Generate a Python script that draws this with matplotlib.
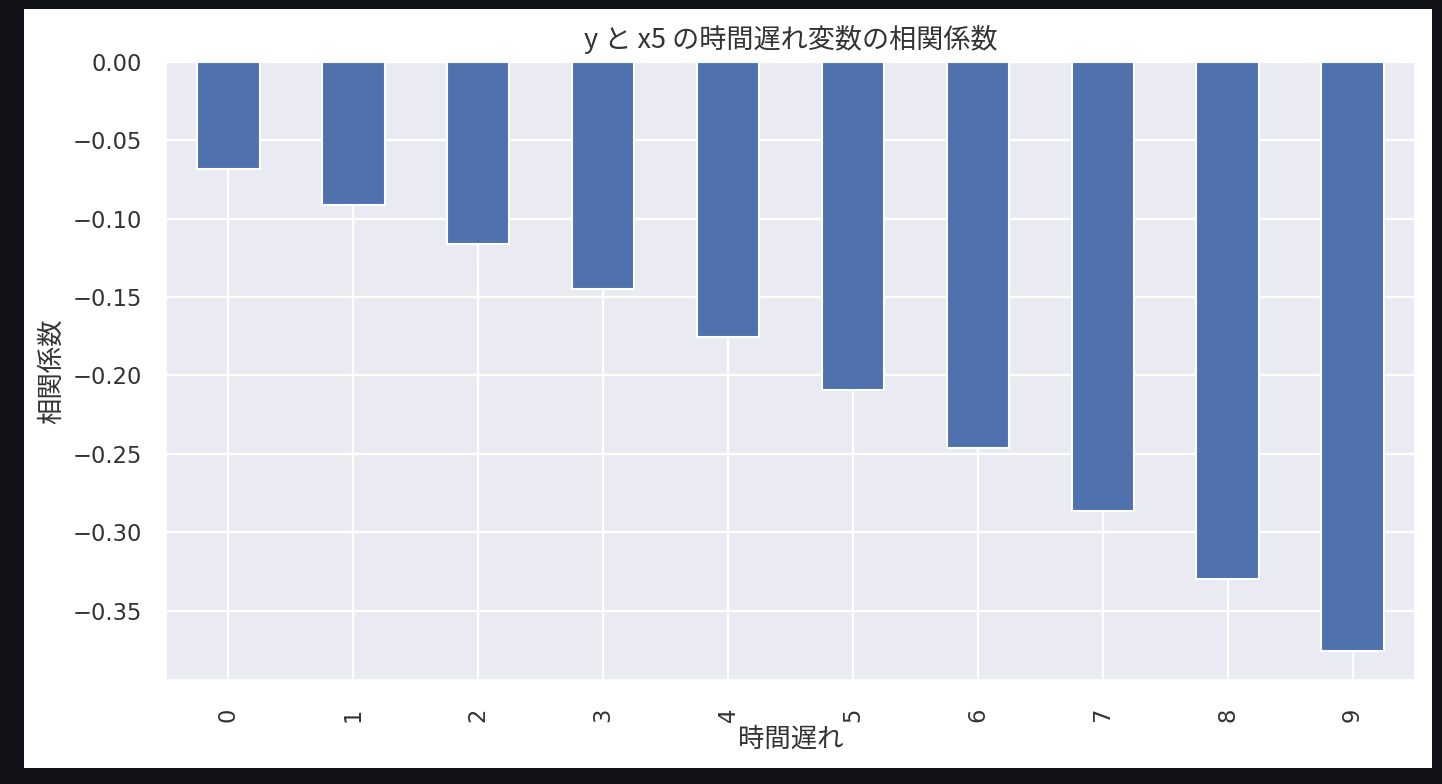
import matplotlib
matplotlib.use("Agg")
import matplotlib.pyplot as plt
import seaborn as sns
from matplotlib.patches import Rectangle

lags = [0, 1, 2, 3, 4, 5, 6, 7, 8, 9]
corr = [-0.068, -0.091, -0.116, -0.1447, -0.1753, -0.2091, -0.2461, -0.2862, -0.3296, -0.3755]
tick_labels = [str(l) for l in lags]
title = "y と x5 の時間遅れ変数の相関係数"
xlabel = "時間遅れ"
ylabel = "相関係数"

sns.set_theme(style="darkgrid")
plt.rcParams['font.family'] = ['Noto Sans CJK JP', 'DejaVu Sans']
plt.rcParams['axes.unicode_minus'] = True

fig = plt.figure(figsize=(14.42, 7.84), dpi=100, facecolor="#111318")
bg = Rectangle((24/1442, 16/784), (1432-24)/1442, (775-16)/784,
               transform=fig.transFigure, facecolor="white",
               edgecolor="none", zorder=-10)
fig.add_artist(bg)
ax = fig.add_axes([166/1442, 104/784, (1415-166)/1442, (722-104)/784])

x = list(range(len(lags)))
ax.bar(x, corr, width=0.5, color="#4F71AE", edgecolor="white", linewidth=1.5)
ax.set_xlim(-0.5, len(lags) - 0.5)
ymin = min(corr) * 1.05
ax.set_ylim(ymin, 0)
ax.set_xticks(x)
ax.set_yticks([0, -0.05, -0.10, -0.15, -0.20, -0.25, -0.30, -0.35])
ax.grid(True, color="white", linewidth=1.7)
ax.set_xticklabels(tick_labels, rotation=90)
for lab in ax.get_xticklabels() + ax.get_yticklabels():
    lab.set_fontfamily(['DejaVu Sans'])
    lab.set_fontsize(16.3)
    lab.set_color("#333333")
ax.tick_params(axis='y', pad=11.5)
ax.tick_params(axis='x', pad=14)
ax.set_title(title, fontsize=19.5, pad=10, color="#333333")
ax.set_xlabel(xlabel, fontsize=19, color="#333333")
ax.set_ylabel(ylabel, fontsize=19, color="#333333")
ax.yaxis.set_label_coords(-0.081, 0.5)
ax.xaxis.set_label_coords(0.5, -0.074)

fig.savefig("out.png", dpi=100, facecolor=fig.get_facecolor())
